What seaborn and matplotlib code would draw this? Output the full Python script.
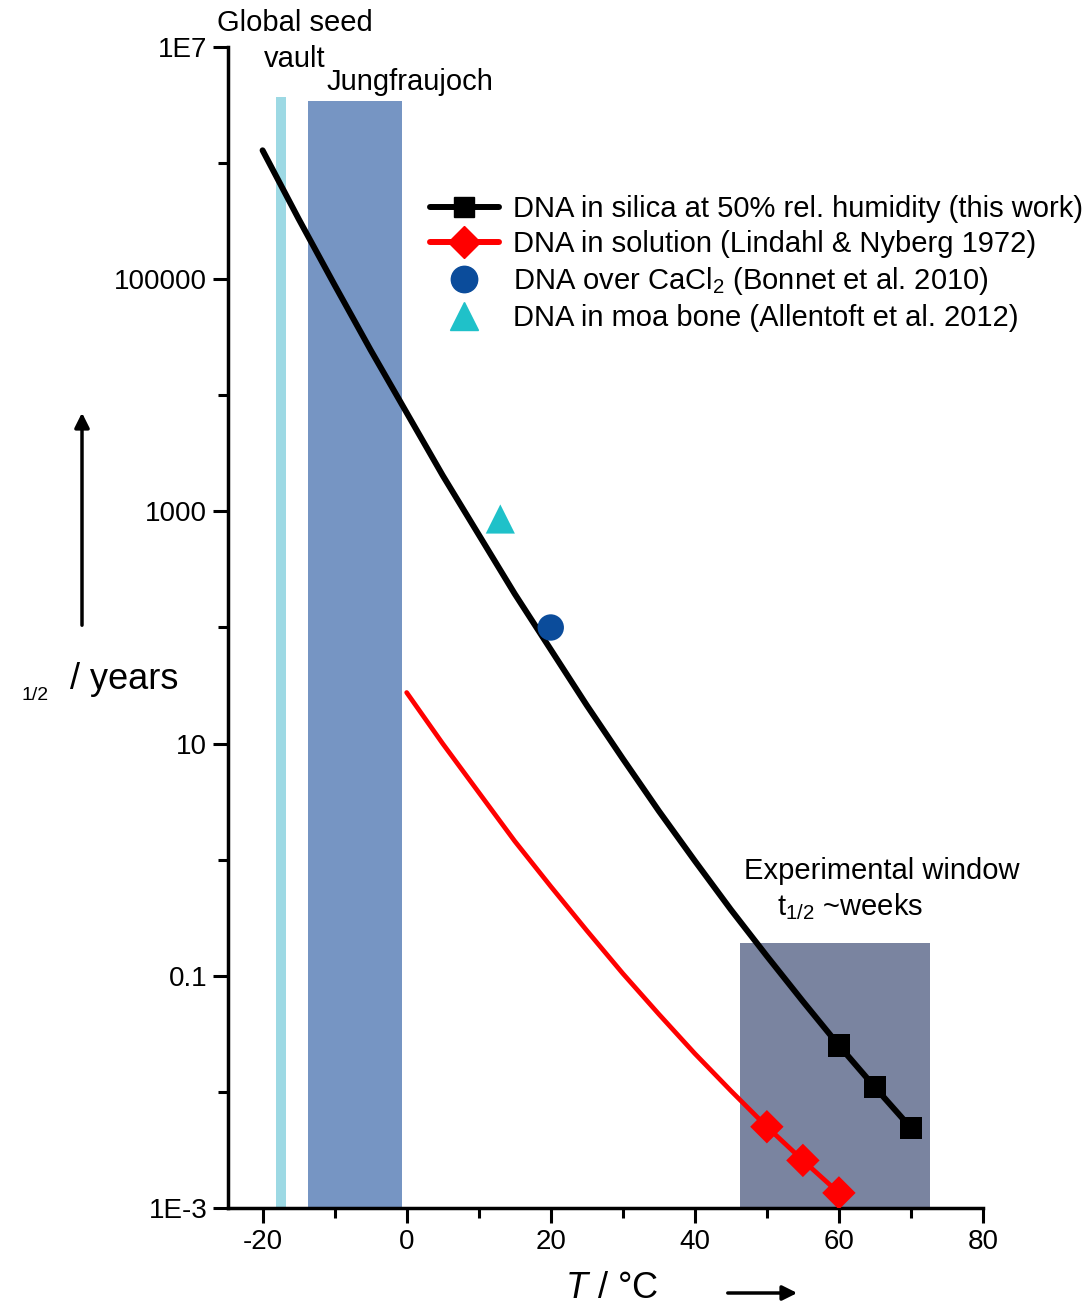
import matplotlib
matplotlib.use('Agg')
import matplotlib.pyplot as plt
import seaborn as sns
from matplotlib.lines import Line2D
from matplotlib.ticker import FixedLocator, FixedFormatter, NullFormatter

# DNA in silica, 50% rel. humidity: fitted curve (log10 of half-life in years)
silica_T = [-20, -15, -10, -5, 0, 5, 10, 15, 20, 25, 30, 35, 40, 45, 50, 55, 60, 65, 70]
silica_log = [6.11, 5.52, 4.95, 4.39, 3.85, 3.31, 2.80, 2.29, 1.81, 1.33, 0.87, 0.42,
              -0.01, -0.43, -0.83, -1.22, -1.60, -1.96, -2.31]
silica_pts_T = [60, 65, 70]
silica_pts_log = [-1.60, -1.96, -2.31]

# DNA in solution (Lindahl & Nyberg 1972)
solution_T = [0, 5, 10, 15, 20, 25, 30, 35, 40, 45, 50, 55, 60]
solution_log = [1.44, 1.00, 0.58, 0.16, -0.23, -0.61, -0.98, -1.33, -1.67, -1.99, -2.30, -2.59, -2.87]
solution_pts_T = [50, 55, 60]
solution_pts_log = [-2.30, -2.59, -2.87]

# single literature points
cacl2_T = [20]
cacl2_years = [100]
moa_T = [13]
moa_years = [860]

# shaded temperature windows
span_names = ['Global seed vault', 'Jungfraujoch', 'Experimental window']
span_x0 = [-18.2, -13.7, 46.3]
span_x1 = [-16.8, -0.7, 72.7]
span_top = [3.7e6, 3.4e6, 0.19]
span_colors = ['#9dd9e4', '#7695c3', '#7a84a0']

ytick_vals = [1e-3, 1e-1, 1e1, 1e3, 1e5, 1e7]
ytick_labels = ['1E-3', '0.1', '10', '1000', '100000', '1E7']
yminor_vals = [1e-2, 1e0, 1e2, 1e4, 1e6]
xtick_vals = [-20, 0, 20, 40, 60, 80]
xminor_vals = [-10, 10, 30, 50, 70]

sns.set_style('ticks')
plt.rcParams['font.family'] = ['Liberation Sans', 'DejaVu Sans']
plt.rcParams['mathtext.fontset'] = 'custom'
plt.rcParams['mathtext.rm'] = 'Liberation Sans'
plt.rcParams['mathtext.it'] = 'Liberation Sans:italic'
plt.rcParams['axes.unicode_minus'] = False
for key in ['text.color', 'axes.labelcolor', 'xtick.color', 'ytick.color', 'axes.edgecolor']:
    plt.rcParams[key] = 'black'

W, H = 1082, 1309
fig = plt.figure(figsize=(W / 100, H / 100), dpi=100)
ax = fig.add_axes([228 / W, 1 - 1208 / H, (983 - 228) / W, (1208 - 47) / H])
ax.set_yscale('log')

for x0, x1, top, c in zip(span_x0, span_x1, span_top, span_colors):
    ax.fill_between([x0, x1], 1e-3, top, color=c, lw=0, zorder=1)

silica_years = [10 ** v for v in silica_log]
solution_years = [10 ** v for v in solution_log]
sns.lineplot(x=silica_T, y=silica_years, color='black', lw=4.3, ax=ax, zorder=3)
sns.lineplot(x=solution_T, y=solution_years, color='#ff0000', lw=3.4, ax=ax, zorder=3)
sns.scatterplot(x=silica_pts_T, y=[10 ** v for v in silica_pts_log], marker='s', s=16 ** 2,
                color='black', edgecolor='none', ax=ax, zorder=4)
sns.scatterplot(x=solution_pts_T, y=[10 ** v for v in solution_pts_log], marker='D', s=17 ** 2,
                color='#ff0000', edgecolor='none', ax=ax, zorder=4)
sns.scatterplot(x=cacl2_T, y=cacl2_years, marker='o', s=19 ** 2, color='#0b4c9b',
                edgecolor='none', ax=ax, zorder=4)
sns.scatterplot(x=moa_T, y=moa_years, marker='^', s=21 ** 2, color='#1fc1c9',
                edgecolor='none', ax=ax, zorder=4)

ax.set_xlim(-24.8, 80)
ax.set_ylim(1e-3, 1e7)
ax.yaxis.set_major_locator(FixedLocator(ytick_vals))
ax.yaxis.set_major_formatter(FixedFormatter(ytick_labels))
ax.yaxis.set_minor_locator(FixedLocator(yminor_vals))
ax.yaxis.set_minor_formatter(NullFormatter())
ax.xaxis.set_major_locator(FixedLocator(xtick_vals))
ax.xaxis.set_minor_locator(FixedLocator(xminor_vals))
ax.tick_params(which='major', length=11, width=2.2, labelsize=20, pad=4, direction='out')
ax.tick_params(which='minor', length=7, width=2.2, direction='out')
for side in ['top', 'right']:
    ax.spines[side].set_visible(False)
for side in ['left', 'bottom']:
    ax.spines[side].set_linewidth(2.5)
ax.set_xlabel('')
ax.set_ylabel('')

# annotations of the shaded windows
ax.text(-15.5, 10 ** 7.21, 'Global seed', ha='center', va='center', fontsize=21, clip_on=False)
ax.text(-15.5, 10 ** 6.90, 'vault', ha='center', va='center', fontsize=21, clip_on=False)
ax.text(0.4, 10 ** 6.70, 'Jungfraujoch', ha='center', va='center', fontsize=21, clip_on=False)
ax.text(65.9, 10 ** -0.10, 'Experimental window', ha='center', va='center', fontsize=21)
ax.text(61.5, 10 ** -0.40, 't$_{1/2}$ ~weeks', ha='center', va='center', fontsize=21)

legend_handles = [
    Line2D([], [], color='black', lw=4.3, marker='s', ms=15),
    Line2D([], [], color='#ff0000', lw=4.3, marker='D', ms=16),
    Line2D([], [], color='#0b4c9b', lw=0, marker='o', ms=19),
    Line2D([], [], color='#1fc1c9', lw=0, marker='^', ms=20),
]
legend_labels = [
    'DNA in silica at 50% rel. humidity (this work)',
    'DNA in solution (Lindahl & Nyberg 1972)',
    'DNA over CaCl$_2$ (Bonnet et al. 2010)',
    'DNA in moa bone (Allentoft et al. 2012)',
]
ax.legend(legend_handles, legend_labels, loc='upper left',
          bbox_to_anchor=(430 / W, 1 - 195 / H), bbox_transform=fig.transFigure,
          frameon=False, fontsize=21, handlelength=2.35, handletextpad=0.5,
          labelspacing=0.24, borderpad=0, borderaxespad=0)

# axis labels with arrows
fig.text(70 / W, 1 - 680 / H, '/ years', fontsize=26, ha='left', va='center')
fig.text(35 / W, 1 - 695 / H, '1/2', fontsize=14, ha='center', va='center')
fig.text(612 / W, 1 - 1288 / H, '$\\it{T}$ / °C', fontsize=26, ha='center', va='center')
ax.annotate('', xy=(82 / W, 1 - 410 / H), xytext=(82 / W, 1 - 628 / H),
            xycoords='figure fraction', textcoords='figure fraction',
            arrowprops=dict(arrowstyle='-|>', lw=2.5, color='black', mutation_scale=22))
ax.annotate('', xy=(800 / W, 1 - 1293 / H), xytext=(725 / W, 1 - 1293 / H),
            xycoords='figure fraction', textcoords='figure fraction',
            arrowprops=dict(arrowstyle='-|>', lw=2.5, color='black', mutation_scale=22))

fig.savefig('out.png', dpi=100)
